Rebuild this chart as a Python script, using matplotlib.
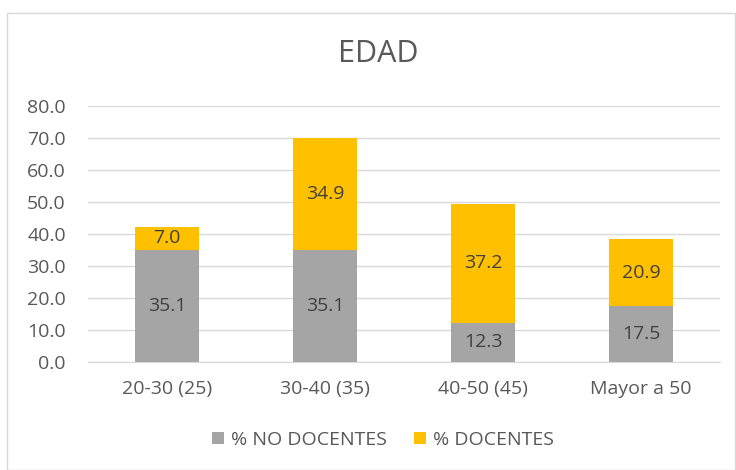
import matplotlib
matplotlib.use("Agg")
import matplotlib.pyplot as plt
from matplotlib.patches import Rectangle

categories = ["20-30 (25)", "30-40 (35)", "40-50 (45)", "Mayor a 50"]
no_docentes = [35.1, 35.1, 12.3, 17.5]
docentes = [7.0, 34.9, 37.2, 20.9]
yticks = [0, 10, 20, 30, 40, 50, 60, 70, 80]

plt.rcParams['font.family'] = ['Open Sans', 'DejaVu Sans']
txt = '#595959'
fs = 14
W, H = 736, 470
fig = plt.figure(figsize=(W/100, H/100), dpi=100)
fig.patches.append(Rectangle((7/W, 0), 1 - 7/W - 1/W, 1 - 13/H, transform=fig.transFigure,
                             fill=False, edgecolor='#D9D9D9', lw=1))

ax = fig.add_axes([88/W, 1 - 362/H, (720-88)/W, (362-106)/H])
x = range(len(categories))
ax.bar(x, no_docentes, width=0.4, color='#A5A5A5', label='% NO DOCENTES', zorder=3)
ax.bar(x, docentes, width=0.4, bottom=no_docentes, color='#FFC000', label='% DOCENTES', zorder=3)
for i in x:
    ax.text(i, no_docentes[i]/2, f"{no_docentes[i]:.1f}", ha='center', va='center', fontsize=fs, color='#404040', zorder=4)
    ax.text(i, no_docentes[i] + docentes[i]/2, f"{docentes[i]:.1f}", ha='center', va='center', fontsize=fs, color='#404040', zorder=4)

ax.set_ylim(0, 80)
ax.set_xlim(-0.5, 3.5)
ax.set_yticks(yticks)
ax.set_yticklabels([f"{v:.1f}" for v in yticks])
ax.set_xticks(list(x))
ax.set_xticklabels(categories)
ax.tick_params(axis='both', length=0, labelsize=fs, colors=txt)
ax.tick_params(axis='y', pad=16)
ax.tick_params(axis='x', pad=13)
ax.grid(axis='y', color='#D9D9D9', lw=1, zorder=0)
for s in ['top', 'right', 'left']:
    ax.spines[s].set_visible(False)
ax.spines['bottom'].set_color('#D9D9D9')

fig.text(378/W, 1 - 54/H, "EDAD", ha='center', va='center', fontsize=22, color=txt)
fig.legend(loc='center', bbox_to_anchor=(383/W, 1 - 440/H), ncol=2, frameon=False,
           fontsize=fs, labelcolor=txt, handlelength=0.62, handleheight=0.62,
           columnspacing=1.4, handletextpad=0.35)

fig.savefig("out.png", dpi=100)
